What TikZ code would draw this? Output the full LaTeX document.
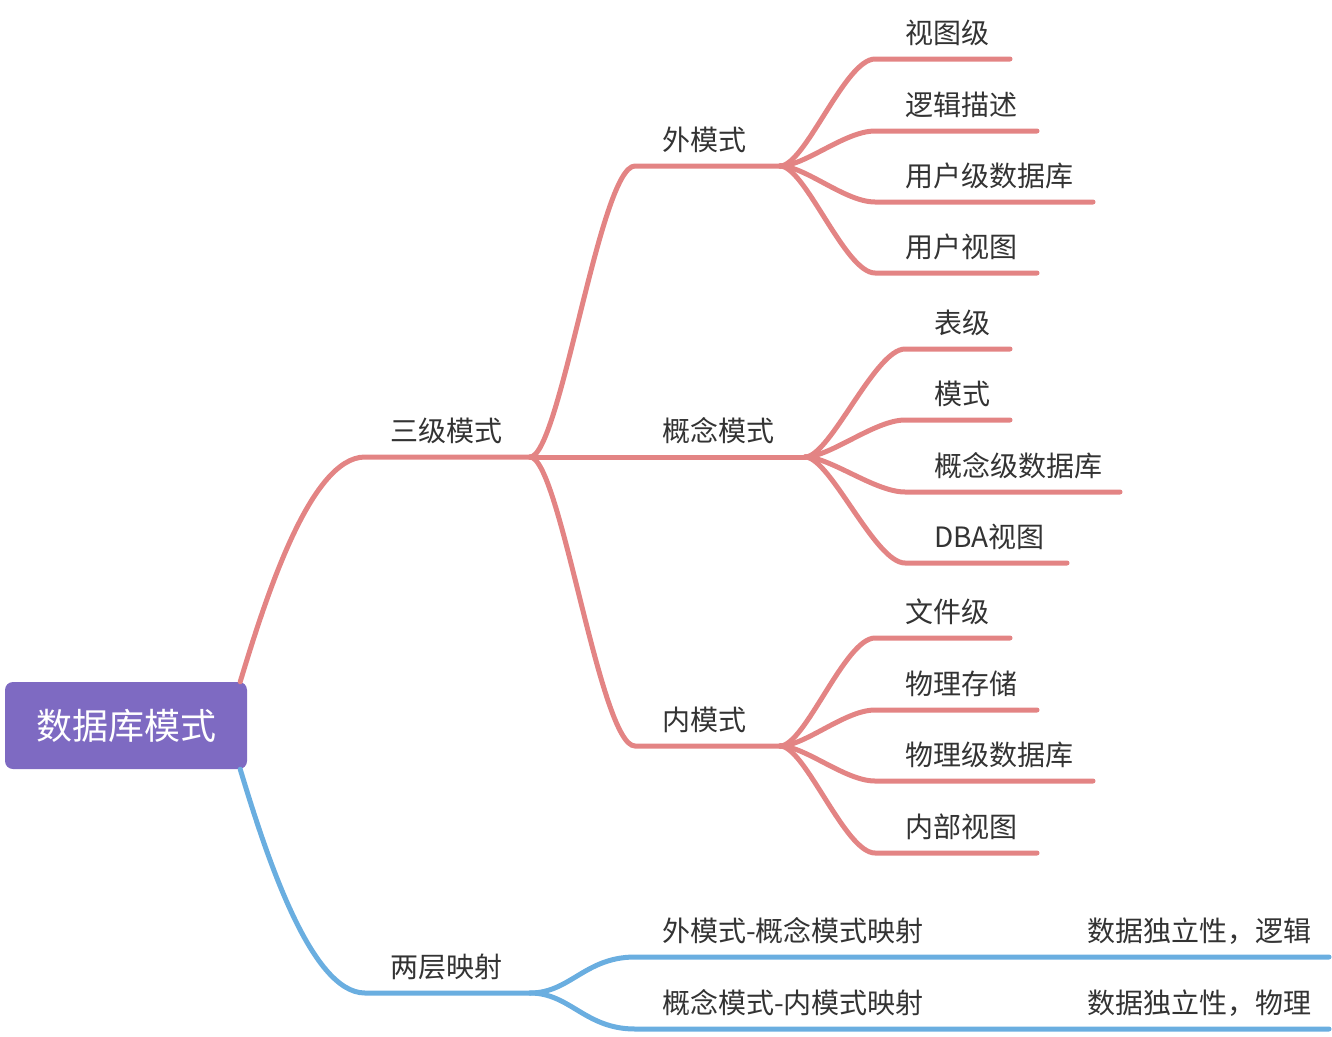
\documentclass[tikz,border=0pt]{standalone}
\usepackage{fontspec}
\setmainfont{Noto Sans CJK SC}
\definecolor{rootpurple}{HTML}{7E6AC2}
\definecolor{linered}{HTML}{E38484}
\definecolor{lineblue}{HTML}{6AAEE0}
\definecolor{textgray}{HTML}{333333}
\begin{document}
\begin{tikzpicture}[x=1pt, y=-1pt,
  root/.style={rounded corners=8pt, fill=rootpurple, text=white, font=\fontsize{36}{40}\selectfont, minimum width=242pt, minimum height=87pt, inner sep=0pt},
  topic/.style={anchor=base west, inner sep=0pt, text=textgray, font=\fontsize{28}{32}\selectfont},
  redline/.style={draw=linered, line width=5pt, line cap=round},
  blueline/.style={draw=lineblue, line width=5pt, line cap=round}]
\useasboundingbox (0,0) rectangle (1332,1036);

\node[root] (root) at (126,725.5) {数据库模式};
\coordinate (root-t) at ([xshift=-7pt]root.north east);
\coordinate (root-b) at ([xshift=-7pt]root.south east);

% first level
\node[topic] (sj) at (390,441) {三级模式};
\node[topic] (lc) at (390,977) {两层映射};
\coordinate (sj-a) at (365,457); \coordinate (sj-b) at (530,457);
\coordinate (lc-a) at (365,993); \coordinate (lc-b) at (530,993);

% second level
\node[topic] (wm) at (662,150) {外模式};
\node[topic] (gn) at (662,441) {概念模式};
\node[topic] (nm) at (662,730) {内模式};
\coordinate (wm-a) at (635,166); \coordinate (wm-b) at (780,166);
\coordinate (gn-b) at (805,457);
\coordinate (nm-a) at (635,746); \coordinate (nm-b) at (780,746);

\node[topic] (m1) at (662,941) {外模式-概念模式映射};
\node[topic] (m2) at (662,1013) {概念模式-内模式映射};
\node[topic] (d1) at (1087,941) {数据独立性，逻辑};
\node[topic] (d2) at (1087,1013) {数据独立性，物理};
\coordinate (m1-a) at (635,957); \coordinate (m1-b) at (943,957); \coordinate (d1-b) at (1329,957);
\coordinate (m2-a) at (635,1029); \coordinate (m2-b) at (943,1029); \coordinate (d2-b) at (1329,1029);

% third level
\node[topic] (wm1) at (905,43) {视图级};
\node[topic] (wm2) at (905,115) {逻辑描述};
\node[topic] (wm3) at (905,186) {用户级数据库};
\node[topic] (wm4) at (905,257) {用户视图};
\coordinate (wm1-a) at (875,59); \coordinate (wm1-b) at (1010,59);
\coordinate (wm2-a) at (875,131); \coordinate (wm2-b) at (1037,131);
\coordinate (wm3-a) at (875,202); \coordinate (wm3-b) at (1093,202);
\coordinate (wm4-a) at (875,273); \coordinate (wm4-b) at (1037,273);

\node[topic] (gn1) at (934,333) {表级};
\node[topic] (gn2) at (934,404) {模式};
\node[topic] (gn3) at (934,476) {概念级数据库};
\node[topic] (gn4) at (934,547) {DBA视图};
\coordinate (gn1-a) at (905,349); \coordinate (gn1-b) at (1010,349);
\coordinate (gn2-a) at (905,420); \coordinate (gn2-b) at (1010,420);
\coordinate (gn3-a) at (905,492); \coordinate (gn3-b) at (1120,492);
\coordinate (gn4-a) at (905,563); \coordinate (gn4-b) at (1067,563);

\node[topic] (nm1) at (905,622) {文件级};
\node[topic] (nm2) at (905,694) {物理存储};
\node[topic] (nm3) at (905,765) {物理级数据库};
\node[topic] (nm4) at (905,837) {内部视图};
\coordinate (nm1-a) at (875,638); \coordinate (nm1-b) at (1010,638);
\coordinate (nm2-a) at (875,710); \coordinate (nm2-b) at (1037,710);
\coordinate (nm3-a) at (875,781); \coordinate (nm3-b) at (1093,781);
\coordinate (nm4-a) at (875,853); \coordinate (nm4-b) at (1037,853);

% connectors
\draw[redline] (root-t) .. controls (265,600) and (310,457) .. (sj-a) -- (sj-b);
\draw[blueline] (root-b) .. controls (265,851) and (310,993) .. (lc-a) -- (lc-b);

\draw[redline] (sj-b) .. controls +(30,0) and +(-35,0) .. (wm-a) -- (wm-b);
\draw[redline] (sj-b) -- (gn-b);
\draw[redline] (sj-b) .. controls +(30,0) and +(-35,0) .. (nm-a) -- (nm-b);

\draw[blueline] (lc-b) .. controls +(40,0) and +(-50,0) .. (m1-a) -- (m1-b) -- (d1-b);
\draw[blueline] (lc-b) .. controls +(40,0) and +(-50,0) .. (m2-a) -- (m2-b) -- (d2-b);

\foreach \k in {1,...,4} {
  \draw[redline] (wm-b) .. controls +(25,0) and +(-30,0) .. (wm\k-a) -- (wm\k-b);
  \draw[redline] (gn-b) .. controls +(25,0) and +(-30,0) .. (gn\k-a) -- (gn\k-b);
  \draw[redline] (nm-b) .. controls +(25,0) and +(-30,0) .. (nm\k-a) -- (nm\k-b);
}
\end{tikzpicture}
\end{document}
